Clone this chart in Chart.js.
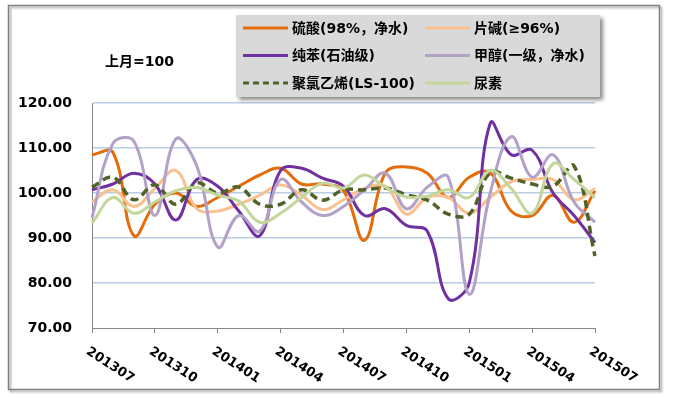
<!DOCTYPE html>
<html>
<head>
<meta charset="utf-8">
<script src="https://cdn.jsdelivr.net/npm/chart.js@4"></script>
<style>
  html, body { margin: 0; padding: 0; background: #fff; }
  #c { display: block; }
</style>
</head>
<body>
<canvas id="c" width="679" height="398"></canvas>
<script>
const months = [
  '201307', '201308', '201309', '201310', '201311', '201312',
  '201401', '201402', '201403', '201404', '201405', '201406',
  '201407', '201408', '201409', '201410', '201411', '201412',
  '201501', '201502', '201503', '201504', '201505', '201506', '201507'
];

const seriesNames = ['硫酸(98%，净水)', '片碱(≥96%)', '纯苯(石油级)', '甲醇(一级，净水)', '聚氯乙烯(LS-100)', '尿素'];

const sulfuric = [108.5, 109, 90.5, 97.5, 100, 97, 99, 101.5, 104, 105.5, 102, 102, 100.5, 89.5, 104.5, 105.8, 104.4, 99, 103.5, 104.5, 96, 95, 99.5, 93.5, 100.5];
const caustic = [98, 100.7, 97, 101, 105, 96.5, 96, 97.5, 99.5, 101.8, 99.5, 96.3, 98.5, 101, 101.5, 95.3, 99, 99, 95.5, 99, 102.5, 103, 103, 98.5, 101];
const benzene = [100.7, 102, 104.4, 102, 94, 103, 101.5, 96, 90.5, 105, 105.5, 103.3, 101.5, 95, 96.5, 92.8, 91.5, 76.5, 80, 115.5, 108.5, 109.5, 100, 95, 89];
const methanol = [94.5, 111, 111.5, 95, 112, 106, 88, 95, 91.5, 103, 98, 95, 97, 100.7, 104.4, 96.5, 101.3, 103.5, 77.5, 100, 112.5, 103.5, 108.5, 98, 93.5];
const pvc = [101.3, 103.5, 98.5, 101.8, 97.5, 102.2, 100, 101.3, 97.5, 97.5, 100.7, 98.4, 100.7, 100.7, 101.1, 99.6, 98.4, 95.3, 95.3, 104.5, 103.3, 102, 101.5, 106, 86];
const urea = [93.3, 99, 95.5, 98, 100.5, 101.2, 99.5, 98.2, 93.5, 95.5, 99, 102.2, 101.1, 104, 101.3, 99.1, 99.3, 100.7, 99, 105, 101, 95.5, 106.5, 103, 99];

const yTicks = [70, 80, 90, 100, 110, 120];
const unitNote = '上月=100';

const colors = ['#E46C0A', '#FAC090', '#7030A0', '#B3A2C7', '#4F6228', '#C3D69B'];
const allSeries = [sulfuric, caustic, benzene, methanol, pvc, urea];

const FONT = "'DejaVu Sans', 'Noto Sans CJK SC', sans-serif";

const datasets = allSeries.map((d, i) => ({
  label: seriesNames[i],
  data: d,
  borderColor: colors[i],
  backgroundColor: colors[i],
  borderWidth: i === 4 ? 3.5 : 3,
  borderDash: i === 4 ? [8, 5] : [],
  pointRadius: 0,
  tension: 0.4,
  fill: false,
  order: 6 - i
}));

const framePlugin = {
  id: 'frame',
  beforeDraw(chart) {
    const ctx = chart.ctx;
    ctx.save();
    ctx.fillStyle = '#fff';
    ctx.fillRect(0, 0, chart.width, chart.height);
    ctx.shadowColor = 'rgba(0,0,0,0.35)';
    ctx.shadowOffsetX = 2;
    ctx.shadowOffsetY = 2;
    ctx.shadowBlur = 2;
    ctx.strokeStyle = '#7f7f7f';
    ctx.lineWidth = 1.5;
    ctx.strokeRect(8.5, 5.5, 651, 384);
    ctx.restore();
  },
  afterDraw(chart) {
    const ctx = chart.ctx;
    const xs = chart.scales.x;
    ctx.save();

    // rotated month labels
    ctx.fillStyle = '#000';
    ctx.font = 'bold 13px ' + FONT;
    ctx.textAlign = 'left';
    ctx.textBaseline = 'top';
    months.forEach((m, i) => {
      if (i % 3 !== 0) return;
      const x = xs.getPixelForValue(i);
      ctx.save();
      ctx.translate(x - 1, 345);
      ctx.rotate(33 * Math.PI / 180);
      ctx.fillText(m, 0, 0);
      ctx.restore();
    });

    // unit note
    ctx.font = 'bold 14px ' + FONT;
    ctx.textBaseline = 'middle';
    ctx.fillText(unitNote, 105, 62);

    // legend box
    ctx.save();
    ctx.shadowColor = 'rgba(0,0,0,0.45)';
    ctx.shadowOffsetX = 3;
    ctx.shadowOffsetY = 3;
    ctx.shadowBlur = 4;
    ctx.fillStyle = '#D9D9D9';
    ctx.fillRect(236, 15, 364, 82);
    ctx.restore();

    const cols = [243, 425];
    const rows = [28, 55.5, 83];
    chart.data.datasets.forEach((ds, i) => {
      const lx = cols[i % 2];
      const ly = rows[Math.floor(i / 2)];
      ctx.save();
      ctx.strokeStyle = ds.borderColor;
      ctx.lineWidth = 3;
      ctx.setLineDash(i === 4 ? [6, 4] : []);
      ctx.beginPath();
      ctx.moveTo(lx, ly);
      ctx.lineTo(lx + 45, ly);
      ctx.stroke();
      ctx.restore();
      ctx.fillStyle = '#000';
      ctx.font = 'bold 14px ' + FONT;
      ctx.textBaseline = 'middle';
      ctx.fillText(ds.label, lx + 49, ly + 1);
    });
    ctx.restore();
  }
};

new Chart(document.getElementById('c'), {
  type: 'line',
  data: { labels: months, datasets: datasets },
  options: {
    responsive: false,
    animation: false,
    events: [],
    layout: { padding: { top: 103, right: 84, bottom: 70, left: 0 } },
    plugins: { legend: { display: false }, tooltip: { enabled: false } },
    scales: {
      x: {
        afterFit: s => { s.height = 0; },
        ticks: { display: false },
        grid: {
          drawOnChartArea: false,
          drawTicks: true,
          tickLength: 5,
          lineWidth: 1,
          color: c => (c.index % 3 === 0 ? '#868686' : 'rgba(0,0,0,0)')
        },
        border: { display: true, color: '#868686', width: 1 }
      },
      y: {
        min: 70,
        max: 120,
        afterFit: s => { s.width = 92; },
        afterBuildTicks: s => { s.ticks = yTicks.map(v => ({ value: v })); },
        ticks: {
          padding: 20,
          color: '#000',
          font: { family: FONT, size: 14, weight: 'bold' },
          callback: v => v.toFixed(2)
        },
        grid: {
          drawTicks: false,
          lineWidth: 1.5,
          color: c => (c.tick && c.tick.value === 70 ? 'rgba(0,0,0,0)' : '#B9CDE5')
        },
        border: { display: true, color: '#868686', width: 1 }
      }
    }
  },
  plugins: [framePlugin]
});
</script>
</body>
</html>
